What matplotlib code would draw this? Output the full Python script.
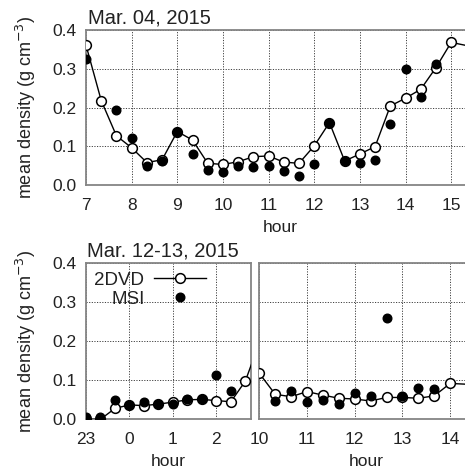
import matplotlib
matplotlib.use("Agg")
import matplotlib.pyplot as plt
from matplotlib.lines import Line2D
import numpy as np

plt.rcParams['font.family'] = ['Liberation Sans', 'DejaVu Sans']
plt.rcParams['font.size'] = 12

# ---------------- data ----------------
top_times = ["07:00", "07:20", "07:40", "08:00", "08:20", "08:40", "09:00", "09:20",
             "09:40", "10:00", "10:20", "10:40", "11:00", "11:20", "11:40", "12:00",
             "12:20", "12:40", "13:00", "13:20", "13:40", "14:00", "14:20", "14:40",
             "15:00", "15:40"]
top_2dvd = [0.361, 0.218, 0.127, 0.096, 0.058, 0.065, 0.138, 0.116,
            0.056, 0.053, 0.060, 0.073, 0.075, 0.059, 0.056, 0.101,
            0.161, 0.062, 0.080, 0.099, 0.204, 0.224, 0.247, 0.303,
            0.368, 0.352]
top_msi = [0.325, None, 0.194, 0.122, 0.050, 0.063, 0.138, 0.080,
           0.039, 0.033, 0.049, 0.047, 0.049, 0.037, 0.024, 0.053,
           0.161, 0.062, 0.058, 0.065, 0.157, 0.299, 0.228, 0.312,
           None, None]

bl_times = ["23:00", "23:20", "23:40", "00:00", "00:20", "00:40", "01:00", "01:20",
            "01:40", "02:00", "02:20", "02:40", "03:00"]
bl_2dvd = [0.000, 0.000, 0.028, 0.037, 0.035, 0.039, 0.044, 0.050,
           0.051, 0.048, 0.045, 0.098, 0.200]
bl_msi = [0.005, 0.007, 0.050, 0.037, 0.045, 0.039, 0.038, 0.051,
          0.052, 0.114, 0.073, None, None]

br_times = ["10:00", "10:20", "10:40", "11:00", "11:20", "11:40", "12:00", "12:20",
            "12:40", "13:00", "13:20", "13:40", "14:00", "14:40"]
br_2dvd = [0.118, 0.064, 0.058, 0.071, 0.062, 0.054, 0.052, 0.047,
           0.056, 0.056, 0.054, 0.060, 0.092, 0.088]
br_msi = [None, 0.047, 0.073, 0.045, 0.050, 0.039, 0.067, 0.060,
          0.261, 0.060, 0.081, 0.077, None, None]

top_ticks = [7, 8, 9, 10, 11, 12, 13, 14, 15]
bl_ticks = [23, 24, 25, 26]
bl_ticklabels = ["23", "0", "1", "2"]
br_ticks = [10, 11, 12, 13, 14]
y_ticks = [0.0, 0.1, 0.2, 0.3, 0.4]


def to_hours(times, wrap=False):
    out = []
    for t in times:
        h, m = t.split(":")
        v = int(h) + int(m) / 60.0
        if wrap and v < 12:
            v += 24
        out.append(v)
    return np.array(out)


def msi_arr(vals):
    return np.array([np.nan if v is None else v for v in vals], dtype=float)


# ---------------- figure ----------------
fig = plt.figure(figsize=(4.65, 4.72), dpi=100)
W, H = 465.0, 472.0


def add_ax(l, r, t, b):
    return fig.add_axes([l / W, 1 - b / H, (r - l) / W, (b - t) / H])


ax_top = add_ax(86, 474, 30, 185)
ax_bl = add_ax(86, 250.7, 263.3, 419.3)
ax_br = add_ax(259.3, 474, 263.3, 419.3)

spine_col = '#858585'
text_col = '#222222'
grid_kw = dict(color='#404040', linestyle=(0, (1.2, 1.5)), linewidth=0.7)
open_kw = dict(color='black', linewidth=1.0, marker='o', markersize=7,
               markerfacecolor='white', markeredgecolor='black', markeredgewidth=1.1,
               zorder=3)
fill_kw = dict(linestyle='none', marker='o', markersize=6.2, color='black', zorder=4)

TICK_FS = 12.5
LABEL_FS = 12.5
TITLE_FS = 14.5
YLAB_FS = 13


def style(ax, xlim, ticks, ticklabels=None, ylabels=True):
    ax.set_xlim(*xlim)
    ax.set_ylim(0, 0.4)
    ax.set_xticks(ticks)
    if ticklabels is not None:
        ax.set_xticklabels(ticklabels)
    ax.set_yticks(y_ticks)
    if ylabels:
        ax.set_yticklabels(["%.1f" % v for v in y_ticks])
    else:
        ax.set_yticklabels([])
    ax.tick_params(axis='x', length=0, pad=9, labelsize=TICK_FS, colors=text_col)
    ax.tick_params(axis='y', length=0, pad=7, labelsize=TICK_FS, colors=text_col)
    ax.grid(True, **grid_kw)
    ax.set_axisbelow(True)
    for s in ['left', 'bottom', 'top']:
        ax.spines[s].set_color(spine_col)
        ax.spines[s].set_linewidth(1.3)
    ax.spines['right'].set_visible(False)
    ax.set_xlabel("hour", fontsize=LABEL_FS, labelpad=5.5, color=text_col)


# top panel
xt = to_hours(top_times)
ax_top.plot(xt, top_2dvd, **open_kw)
ax_top.plot(xt, msi_arr(top_msi), **fill_kw)
style(ax_top, (7, 15.5), top_ticks)
ax_top.set_title("Mar. 04, 2015", loc='left', fontsize=TITLE_FS, pad=5, x=0.005,
                 color=text_col)
ax_top.set_ylabel("mean density (g cm$^{-3}$)", fontsize=YLAB_FS, labelpad=10,
                  color=text_col)

# bottom left
xbl = to_hours(bl_times, wrap=True)
ax_bl.plot(xbl, bl_2dvd, **open_kw)
ax_bl.plot(xbl, msi_arr(bl_msi), **fill_kw)
style(ax_bl, (23, 26.79), bl_ticks, bl_ticklabels)
ax_bl.spines['right'].set_visible(True)
ax_bl.spines['right'].set_color(spine_col)
ax_bl.spines['right'].set_linewidth(1.3)
ax_bl.set_title("Mar. 12-13, 2015", loc='left', fontsize=TITLE_FS, pad=5, x=0.005,
                color=text_col)
ax_bl.set_ylabel("mean density (g cm$^{-3}$)", fontsize=YLAB_FS, labelpad=10,
                 color=text_col)

h1 = Line2D([], [], **open_kw)
h2 = Line2D([], [], **fill_kw)
leg = ax_bl.legend([h1, h2], ["2DVD", "MSI"], loc='upper left', frameon=False,
                   markerfirst=False, numpoints=1, handlelength=2.8,
                   handletextpad=0.5, labelspacing=0.1, fontsize=13.5,
                   borderaxespad=0.05, bbox_to_anchor=(0.0, 1.0))
for t in leg.get_texts():
    t.set_color(text_col)

# bottom right
xbr = to_hours(br_times)
ax_br.plot(xbr, br_2dvd, **open_kw)
ax_br.plot(xbr, msi_arr(br_msi), **fill_kw)
style(ax_br, (10, 14.5), br_ticks, ylabels=False)

fig.savefig("out.png", dpi=100)
